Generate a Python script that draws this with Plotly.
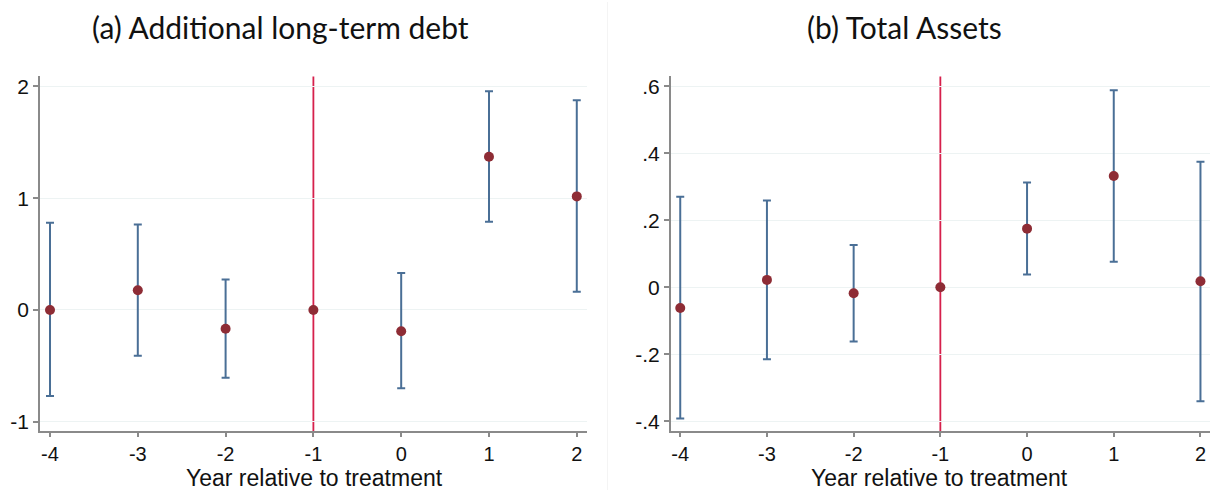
import plotly.graph_objects as go

# ---- data ----
years = [-4, -3, -2, -1, 0, 1, 2]
x_ticks = [-4, -3, -2, -1, 0, 1, 2]
x_tick_labels = ["-4", "-3", "-2", "-1", "0", "1", "2"]

debt_coef = [0.00, 0.177, -0.168, 0.0, -0.19, 1.37, 1.016]
debt_hi = [0.78, 0.765, 0.272, 0.0, 0.33, 1.956, 1.876]
debt_lo = [-0.77, -0.41, -0.606, 0.0, -0.70, 0.79, 0.162]
debt_y_ticks = [-1, 0, 1, 2]
debt_y_labels = ["-1", "0", "1", "2"]

assets_coef = [-0.062, 0.022, -0.018, 0.0, 0.175, 0.332, 0.018]
assets_hi = [0.27, 0.259, 0.126, 0.0, 0.313, 0.588, 0.375]
assets_lo = [-0.392, -0.215, -0.162, 0.0, 0.0385, 0.076, -0.34]
assets_y_ticks = [-0.4, -0.2, 0, 0.2, 0.4, 0.6]
assets_y_labels = ["-.4", "-.2", "0", ".2", ".4", ".6"]

titles = ["(a) Additional long-term debt", "(b) Total Assets"]
x_title = "Year relative to treatment"
treat_year = -1

# ---- styling ----
W, H = 1210, 492
CI_COL = "#4a6f96"
PT_COL = "#8e2c35"
LINE_COL = "#d6204c"
GRID_COL = "#edf3f3"
AXIS_COL = "#8a8a8a"
TICK_FONT = dict(family="Liberation Sans, Arial, sans-serif", size=21, color="#111111")
XTICK_FONT = dict(family="Liberation Sans, Arial, sans-serif", size=20, color="#111111")
AXT_FONT = dict(family="Liberation Sans, Arial, sans-serif", size=23, color="#111111")
TITLE_FONT = dict(family="Lato, sans-serif", size=30, color="#111111")

def px_x(p):
    return p / W

def px_y(p):
    return (H - p) / H

fig = go.Figure()

def add_panel(coef, hi, lo, xa, ya):
    plus = [h - c for h, c in zip(hi, coef)]
    minus = [c - l for c, l in zip(coef, lo)]
    fig.add_trace(go.Scatter(
        x=years, y=coef, mode="markers",
        marker=dict(size=10, color=PT_COL),
        error_y=dict(type="data", symmetric=False, array=plus, arrayminus=minus,
                     color=CI_COL, thickness=2, width=4),
        xaxis=xa, yaxis=ya, showlegend=False, hoverinfo="x+y"))

add_panel(debt_coef, debt_hi, debt_lo, "x", "y")
add_panel(assets_coef, assets_hi, assets_lo, "x2", "y2")

common_x = dict(tickmode="array", tickvals=x_ticks, ticktext=x_tick_labels,
                ticks="outside", ticklen=4, tickwidth=1.5, tickcolor=AXIS_COL,
                showline=True, linecolor=AXIS_COL, linewidth=1.5,
                showgrid=False, zeroline=False, tickfont=XTICK_FONT)
common_y = dict(tickmode="array", ticks="outside", ticklen=5, tickwidth=1.5,
                tickcolor=AXIS_COL, showline=True, linecolor=AXIS_COL, linewidth=1.5,
                showgrid=True, gridcolor=GRID_COL, gridwidth=1.2, zeroline=False,
                tickfont=TICK_FONT)

fig.update_layout(
    width=W, height=H, margin=dict(l=0, r=0, t=0, b=0),
    paper_bgcolor="white", plot_bgcolor="white",
    xaxis=dict(domain=[px_x(40), px_x(586.7)], range=[-4.114, 2.113], anchor="y", **common_x),
    yaxis=dict(domain=[px_y(432.5), px_y(75)], range=[-1.082, 2.089], anchor="x",
               tickvals=debt_y_ticks, ticktext=debt_y_labels, **common_y),
    xaxis2=dict(domain=[px_x(670.7), 1.0], range=[-4.11, 2.11], anchor="y2", **common_x),
    yaxis2=dict(domain=[px_y(432.5), px_y(75)], range=[-0.429, 0.6296], anchor="x2",
                tickvals=assets_y_ticks, ticktext=assets_y_labels, **common_y),
    annotations=[
        dict(text=titles[0], x=px_x(280), y=px_y(25), xref="paper", yref="paper",
             showarrow=False, font=TITLE_FONT, xanchor="center", yanchor="middle"),
        dict(text=titles[1], x=px_x(905), y=px_y(25), xref="paper", yref="paper",
             showarrow=False, font=TITLE_FONT, xanchor="center", yanchor="middle"),
        dict(text=x_title, x=px_x(314), y=px_y(480), xref="paper", yref="paper",
             showarrow=False, font=AXT_FONT, xanchor="center", yanchor="middle"),
        dict(text=x_title, x=px_x(939), y=px_y(480), xref="paper", yref="paper",
             showarrow=False, font=AXT_FONT, xanchor="center", yanchor="middle"),
    ],
    shapes=[
        dict(type="line", xref="x", yref="y domain", x0=treat_year, x1=treat_year, y0=0, y1=1,
             line=dict(color=LINE_COL, width=1.8), layer="below"),
        dict(type="line", xref="x2", yref="y2 domain", x0=treat_year, x1=treat_year, y0=0, y1=1,
             line=dict(color=LINE_COL, width=1.8), layer="below"),
        dict(type="line", xref="paper", yref="paper", x0=px_x(607.5), x1=px_x(607.5), y0=0, y1=1,
             line=dict(color="#f4f4f4", width=1), layer="below"),
    ],
)

fig.write_html(
    "out.html",
    config={"displayModeBar": False},
    post_script="document.body.style.margin='0';document.body.style.overflow='hidden';",
)
